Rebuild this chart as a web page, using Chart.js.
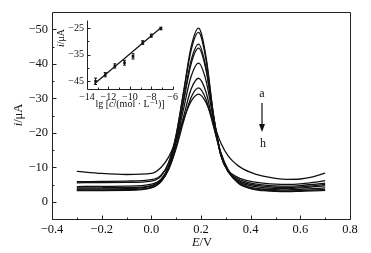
<!DOCTYPE html>
<html>
<head>
<meta charset="utf-8">
<script src="https://cdn.jsdelivr.net/npm/chart.js@4.4.0/dist/chart.umd.min.js"></script>
<style>
  html, body { margin: 0; padding: 0; background: #fff; }
  #wrap { position: relative; width: 371px; height: 253px; overflow: hidden;
          font-family: "Liberation Serif", "DejaVu Serif", serif; color: #111; }
  #main { position: absolute; left: 0; top: 0; }
  #inset { position: absolute; left: 50px; top: 10px; }
  .lbl { position: absolute; white-space: nowrap; line-height: 1; transform: translate(-50%, -50%); }
  .rot { transform: translate(-50%, -50%) rotate(-90deg); }
</style>
</head>
<body>
<div id="wrap">
  <canvas id="main" width="371" height="253"></canvas>
  <canvas id="inset" width="130" height="105"></canvas>

  <div class="lbl rot" style="left:18px; top:115px; font-size:12.5px;"><i>i</i>/μA</div>
  <div class="lbl" style="left:202px; top:242px; font-size:12.5px;"><i>E</i>/V</div>

  <div class="lbl rot" style="left:61px; top:38px; font-size:10px;"><i>i</i>/μA</div>
  <div class="lbl" style="left:130px; top:104px; font-size:10px;">lg [<i>c</i>/(mol · L⁻¹)]</div>

  <div class="lbl" style="left:262px; top:93px; font-size:12px;">a</div>
  <div class="lbl" style="left:263px; top:143px; font-size:12px;">h</div>
  <svg style="position:absolute; left:256px; top:100px;" width="12" height="34">
    <line x1="6" y1="3" x2="6" y2="28" stroke="#111" stroke-width="1.2"/>
    <polygon points="3,24 9,24 6,32" fill="#111"/>
  </svg>
</div>

<script>
// Potential (V) where each voltammogram was read
const potentials = [-0.3, -0.2, -0.1, 0.0, 0.04, 0.07, 0.10, 0.13, 0.16, 0.19, 0.22,
                    0.25, 0.28, 0.31, 0.35, 0.40, 0.45, 0.50, 0.55, 0.60, 0.65, 0.70];

// Current (uA), curves a..h
const curveA = [-5.8, -5.9, -6.0, -6.4, -7.8, -11.4, -19.4, -32.0, -44.8, -50.3, -42.1,
                -25.3, -13.5, -9.0, -7.0, -5.9, -5.4, -5.1, -5.05, -5.2, -5.6, -6.1];
const curveB = [-5.5, -5.55, -5.6, -6.0, -7.5, -11.3, -19.3, -31.6, -43.9, -49.1, -41.3,
                -25.2, -13.4, -8.7, -6.6, -5.4, -4.9, -4.6, -4.55, -4.7, -5.0, -5.4];
const curveC = [-4.4, -4.45, -4.5, -5.1, -6.6, -10.3, -18.1, -29.6, -40.9, -45.7, -38.9,
                -24.6, -13.5, -8.6, -6.2, -5.0, -4.5, -4.2, -4.15, -4.3, -4.6, -5.0];
const curveD = [-4.0, -4.05, -4.1, -4.7, -6.35, -10.2, -17.9, -29.1, -39.9, -44.5, -38.3,
                -24.9, -13.8, -8.7, -5.9, -4.6, -4.1, -3.9, -3.85, -4.0, -4.3, -4.6];
const curveE = [-3.7, -3.75, -3.8, -4.5, -6.2, -10.0, -17.1, -27.0, -36.3, -40.2, -35.2,
                -23.8, -14.0, -8.8, -5.6, -4.2, -3.7, -3.5, -3.45, -3.6, -3.8, -4.0];
const curveF = [-3.4, -3.45, -3.5, -4.15, -5.9, -9.5, -16.0, -24.7, -32.6, -35.8, -31.8,
                -22.4, -13.8, -8.8, -5.4, -3.9, -3.4, -3.2, -3.15, -3.25, -3.4, -3.6];
const curveG = [-3.2, -3.25, -3.3, -4.0, -5.9, -9.4, -15.5, -23.3, -30.2, -33.0, -29.7,
                -21.9, -14.2, -9.2, -5.6, -3.8, -3.2, -3.0, -2.95, -3.05, -3.15, -3.3];
const curveH = [-8.8, -8.2, -7.9, -8.2, -10.0, -13.0, -17.9, -24.0, -29.1, -31.2, -28.8,
                -23.0, -17.0, -13.2, -10.4, -8.5, -7.4, -6.8, -6.5, -6.6, -7.2, -8.3];

// Inset: calibration points
const lgConc = [-13.2, -12.3, -11.4, -10.5, -9.7, -8.8, -8.0, -7.1];
const peakCurrent = [-45.1, -42.6, -39.3, -38.1, -35.7, -30.5, -27.9, -25.2];
const peakError = [1.2, 0.8, 0.8, 0.9, 1.0, 0.7, 0.6, 0.5];
const fitX = [-13.3, -7.1];
const fitY = [-46.0, -24.9];

// Tick positions
const mainXMajor = [-0.4, -0.2, 0.0, 0.2, 0.4, 0.6, 0.8];
const mainXMinor = [-0.3, -0.1, 0.1, 0.3, 0.5, 0.7];
const mainYMajor = [-50, -40, -30, -20, -10, 0];
const mainYMinor = [-45, -35, -25, -15, -5];
const insetXMajor = [-14, -12, -10, -8, -6];
const insetXMinor = [-13, -11, -9, -7];
const insetYMajor = [-25, -35, -45];
const insetYMinor = [-30, -40];

Chart.defaults.font.family = '"Liberation Serif", "DejaVu Serif", serif';
Chart.defaults.color = '#111';

function minusText(s) {
    return String(s).replace('-', '\u2212');
}

/**
 * Draws the axis frame and inward tick marks
 */
const frameAndTicks = {
    id: 'frameAndTicks',
    afterDraw(chart, args, opts) {
        const { ctx, chartArea: a, scales } = chart;
        const L = Math.round(a.left) + 0.5, R = Math.round(a.right) + 0.5;
        const T = Math.round(a.top) + 0.5, B = Math.round(a.bottom) + 0.5;
        ctx.save();
        ctx.strokeStyle = '#222';
        ctx.lineWidth = 1;
        ctx.beginPath();
        if (opts.box) {
            ctx.rect(L, T, R - L, B - T);
        } else {
            ctx.moveTo(L, T);
            ctx.lineTo(L, B);
            ctx.lineTo(R, B);
        }
        const xTick = (v, len) => {
            const px = Math.round(scales.x.getPixelForValue(v)) + 0.5;
            ctx.moveTo(px, B);
            ctx.lineTo(px, B - len);
        };
        const yTick = (v, len) => {
            const py = Math.round(scales.y.getPixelForValue(v)) + 0.5;
            ctx.moveTo(L, py);
            ctx.lineTo(L + len, py);
        };
        opts.xMajor.forEach(v => xTick(v, opts.majorLen));
        opts.xMinor.forEach(v => xTick(v, opts.minorLen));
        opts.yMajor.forEach(v => yTick(v, opts.majorLen));
        opts.yMinor.forEach(v => yTick(v, opts.minorLen));
        ctx.stroke();
        ctx.restore();
    }
};

/**
 * Error bars for the inset points
 */
const errorBars = {
    id: 'errorBars',
    afterDatasetsDraw(chart) {
        const { ctx, scales } = chart;
        ctx.save();
        ctx.strokeStyle = '#111';
        ctx.lineWidth = 1;
        ctx.beginPath();
        lgConc.forEach((x, i) => {
            const px = scales.x.getPixelForValue(x);
            const y1 = scales.y.getPixelForValue(peakCurrent[i] - peakError[i]);
            const y2 = scales.y.getPixelForValue(peakCurrent[i] + peakError[i]);
            ctx.moveTo(px, y1);
            ctx.lineTo(px, y2);
            ctx.moveTo(px - 1.5, y1);
            ctx.lineTo(px + 1.5, y1);
            ctx.moveTo(px - 1.5, y2);
            ctx.lineTo(px + 1.5, y2);
        });
        ctx.stroke();
        ctx.restore();
    }
};

// Main voltammograms
const curves = [curveA, curveB, curveC, curveD, curveE, curveF, curveG, curveH];

new Chart(document.getElementById('main'), {
    type: 'line',
    data: {
        datasets: curves.map((values, k) => ({
            label: 'abcdefgh'[k],
            data: potentials.map((e, i) => ({ x: e, y: values[i] })),
            borderColor: '#111',
            borderWidth: 1.3,
            pointRadius: 0,
            cubicInterpolationMode: 'monotone',
            fill: false
        }))
    },
    options: {
        responsive: false,
        animation: false,
        devicePixelRatio: 1,
        layout: { padding: { top: 12, right: 21, left: 0, bottom: 0 } },
        plugins: {
            legend: { display: false },
            tooltip: { enabled: false },
            frameAndTicks: {
                box: true, majorLen: 4, minorLen: 2,
                xMajor: mainXMajor, xMinor: mainXMinor,
                yMajor: mainYMajor, yMinor: mainYMinor
            }
        },
        scales: {
            x: {
                type: 'linear',
                min: -0.4,
                max: 0.8,
                grid: { display: false, drawTicks: false },
                border: { display: false },
                afterBuildTicks: s => { s.ticks = mainXMajor.map(v => ({ value: v })); },
                afterFit: s => { s.height = 34; },
                ticks: {
                    autoSkip: false,
                    maxRotation: 0,
                    padding: 3,
                    font: { size: 12.5 },
                    callback: v => minusText(Number(v).toFixed(1))
                }
            },
            y: {
                type: 'linear',
                reverse: true,
                min: -55,
                max: 5,
                grid: { display: false, drawTicks: false },
                border: { display: false },
                afterBuildTicks: s => { s.ticks = mainYMajor.map(v => ({ value: v })); },
                afterFit: s => { s.width = 52; },
                ticks: {
                    autoSkip: false,
                    padding: 4,
                    font: { size: 12.5 },
                    callback: v => minusText(v)
                }
            }
        }
    },
    plugins: [frameAndTicks]
});

// Inset calibration plot
new Chart(document.getElementById('inset'), {
    type: 'scatter',
    data: {
        datasets: [{
            type: 'line',
            data: fitX.map((x, i) => ({ x: x, y: fitY[i] })),
            borderColor: '#111',
            borderWidth: 1.2,
            pointRadius: 0
        }, {
            data: lgConc.map((x, i) => ({ x: x, y: peakCurrent[i] })),
            pointStyle: 'rect',
            pointRadius: 1.8,
            backgroundColor: '#111',
            borderColor: '#111',
            borderWidth: 0
        }]
    },
    options: {
        responsive: false,
        animation: false,
        devicePixelRatio: 1,
        layout: { padding: { top: 10, right: 5, left: 0, bottom: 0 } },
        plugins: {
            legend: { display: false },
            tooltip: { enabled: false },
            frameAndTicks: {
                box: false, majorLen: 3, minorLen: 2,
                xMajor: insetXMajor, xMinor: insetXMinor,
                yMajor: insetYMajor, yMinor: insetYMinor
            }
        },
        scales: {
            x: {
                type: 'linear',
                min: -14,
                max: -6,
                grid: { display: false, drawTicks: false },
                border: { display: false },
                afterBuildTicks: s => { s.ticks = insetXMajor.map(v => ({ value: v })); },
                afterFit: s => { s.height = 26; },
                ticks: {
                    autoSkip: false,
                    maxRotation: 0,
                    padding: 2,
                    font: { size: 10 },
                    callback: v => minusText(v)
                }
            },
            y: {
                type: 'linear',
                min: -48,
                max: -22,
                grid: { display: false, drawTicks: false },
                border: { display: false },
                afterBuildTicks: s => { s.ticks = insetYMajor.map(v => ({ value: v })); },
                afterFit: s => { s.width = 37; },
                ticks: {
                    autoSkip: false,
                    padding: 3,
                    font: { size: 10 },
                    callback: v => minusText(v)
                }
            }
        }
    },
    plugins: [frameAndTicks, errorBars]
});
</script>
</body>
</html>
